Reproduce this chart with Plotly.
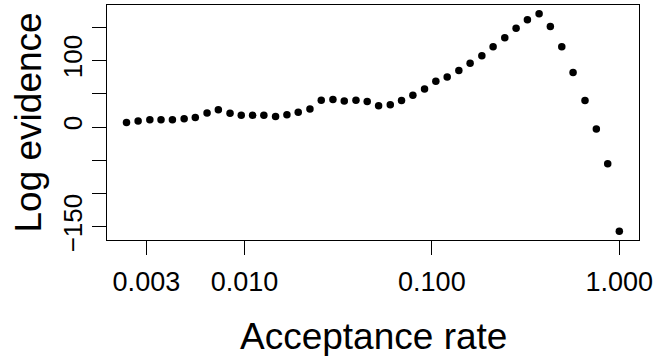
import plotly.graph_objects as go

acceptance_rate = [
    0.00235, 0.00271, 0.00313, 0.00359, 0.00413, 0.00477, 0.00547, 0.00632,
    0.00726, 0.00838, 0.00962, 0.01106, 0.0127, 0.01466, 0.01686, 0.01937,
    0.02237, 0.0257, 0.02966, 0.0341, 0.03936, 0.0452, 0.052, 0.060,
    0.0689, 0.0792, 0.0914, 0.105, 0.1207, 0.1393, 0.160, 0.1848,
    0.2122, 0.2449, 0.2814, 0.3234, 0.3733, 0.4286, 0.4932, 0.5665,
    0.6561, 0.7541, 0.8671, 1.0,
]
log_evidence = [
    6.9, 9.0, 11.0, 11.0, 11.0, 12.5, 14.4, 21.1,
    26.0, 20.5, 17.5, 17.5, 17.5, 15.9, 18.5, 22.0,
    27.1, 40.0, 41.1, 39.1, 40.0, 38.1, 31.9, 33.5,
    39.6, 47.5, 57.2, 68.6, 75.2, 84.7, 95.7, 106.8,
    120.4, 133.9, 148.3, 161.0, 170.0, 150.9, 120.4, 81.7,
    39.6, -3.0, -55.2, -156.5,
]

x_tick_vals = [0.003, 0.01, 0.1, 1.0]
x_tick_text = ["0.003", "0.010", "0.100", "1.000"]
y_tick_vals = [-150, -100, -50, 0, 50, 100, 150]
y_tick_text = ["\u2212150", "", "", "0", "", "100", ""]
x_title = "Acceptance rate"
y_title = "Log evidence"

FONT = "Liberation Sans, Arial, sans-serif"

fig = go.Figure(
    go.Scatter(
        x=acceptance_rate,
        y=log_evidence,
        mode="markers",
        marker=dict(color="black", size=7.5),
        showlegend=False,
    )
)

fig.update_layout(
    width=654,
    height=356,
    margin=dict(l=107, r=15, t=5, b=116, autoexpand=False),
    paper_bgcolor="white",
    plot_bgcolor="white",
    font=dict(family=FONT, color="black"),
    annotations=[
        dict(text=x_title, xref="paper", yref="paper", x=0.5, y=0,
             xanchor="center", yanchor="middle", yshift=-96, showarrow=False,
             font=dict(size=37, family=FONT, color="black")),
        dict(text=y_title, xref="paper", yref="paper", x=0, y=0.5,
             xanchor="center", yanchor="middle", xshift=-79, textangle=-90,
             showarrow=False, font=dict(size=37, family=FONT, color="black")),
    ],
)

fig.update_xaxes(
    type="log",
    range=[-2.733, 0.105],
    tickvals=x_tick_vals,
    ticktext=x_tick_text,
    ticks="outside",
    ticklen=14,
    tickwidth=1,
    tickcolor="black",
    tickfont=dict(size=27, family=FONT, color="black"),
    ticklabelstandoff=4,
    showgrid=False,
    zeroline=False,
    showline=True,
    linecolor="black",
    linewidth=1,
    mirror=True,
    automargin=False,
)

fig.update_yaxes(
    range=[-169.6, 183.1],
    tickvals=y_tick_vals,
    ticktext=y_tick_text,
    tickangle=-90,
    ticks="outside",
    ticklen=14,
    tickwidth=1,
    tickcolor="black",
    tickfont=dict(size=26, family=FONT, color="black"),
    ticklabelstandoff=0,
    showgrid=False,
    zeroline=False,
    showline=True,
    linecolor="black",
    linewidth=1,
    mirror=True,
    automargin=False,
)

fig.write_html(
    "out.html",
    config={"displayModeBar": False},
    post_script="document.body.style.margin='0';document.body.style.overflow='hidden';",
)
